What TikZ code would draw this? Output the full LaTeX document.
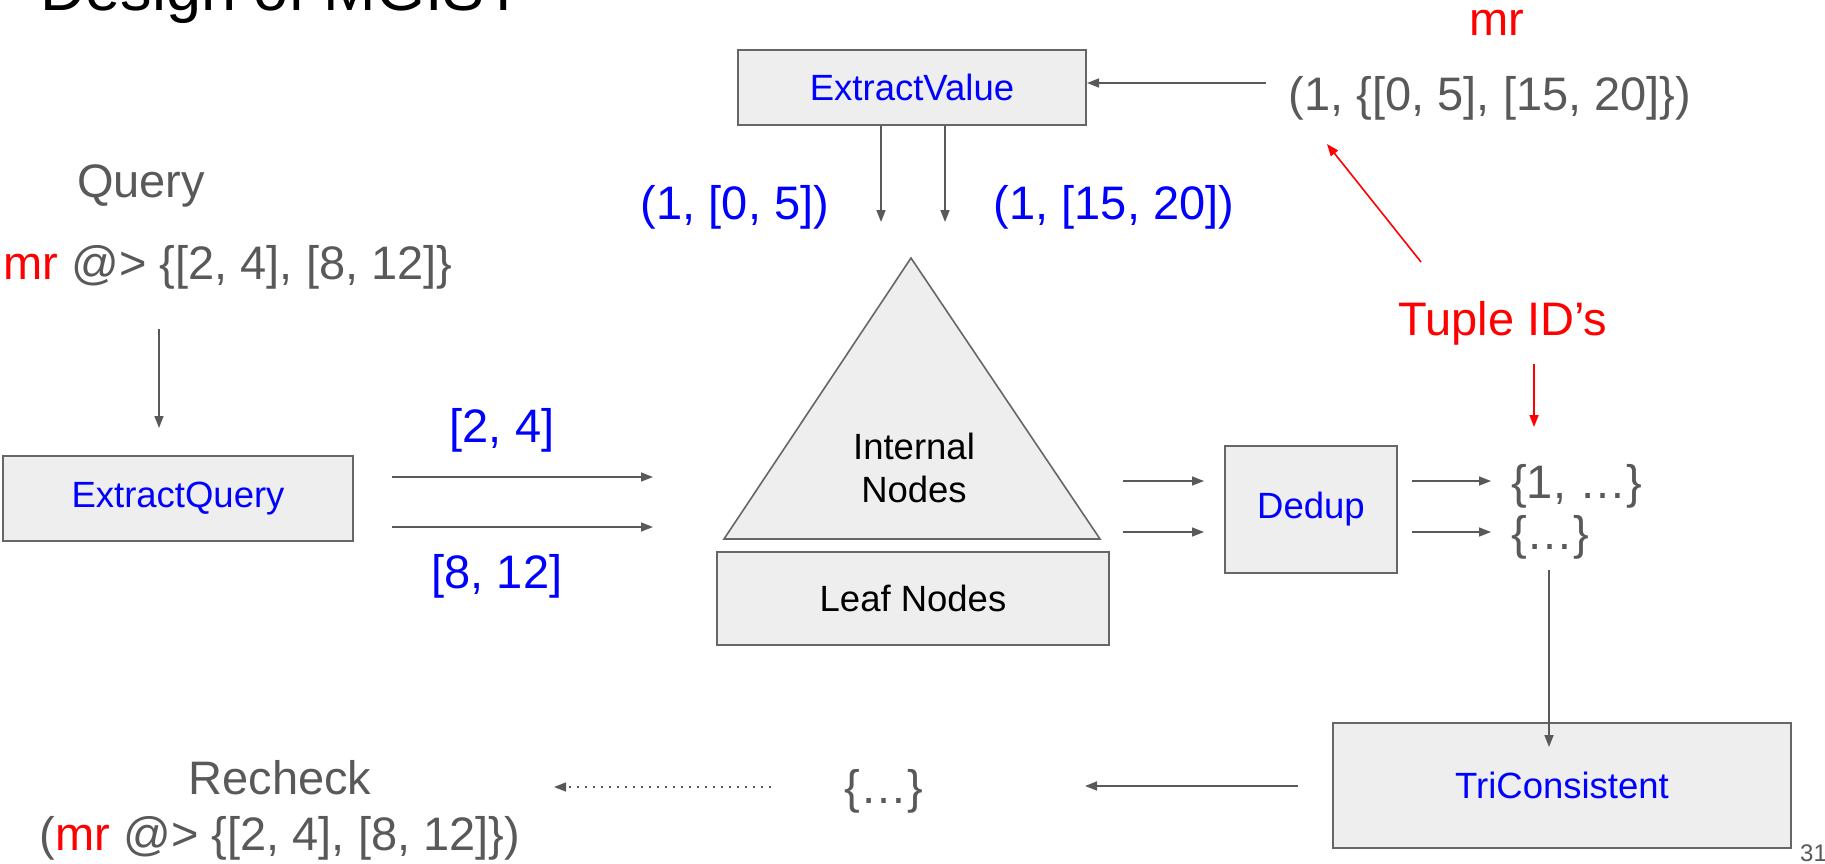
\documentclass[tikz,border=0pt]{standalone}
\usepackage{fontspec}
\setmainfont{Liberation Sans}
\usetikzlibrary{arrows.meta}

\definecolor{txtgray}{HTML}{595959}
\definecolor{boxfill}{HTML}{EEEEEE}
\definecolor{boxline}{HTML}{666666}
\definecolor{opblue}{HTML}{0000FF}
\definecolor{hotred}{HTML}{FF0000}

\tikzset{
  big/.style={font=\fontsize{47}{56}\selectfont, text=txtgray, inner sep=0pt, anchor=base},
  op/.style={draw=boxline, fill=boxfill, line width=2pt, inner sep=0pt,
             font=\fontsize{36.5}{43}\selectfont, text=opblue},
  arr/.style={draw=txtgray, line width=1.6pt, -{Triangle[length=12pt,width=9pt]}},
  redarr/.style={arr, draw=hotred},
}

\begin{document}
\begin{tikzpicture}[x=1pt, y=-1pt]
    \useasboundingbox (0,0) rectangle (1825,864);
    \clip (0,0) rectangle (1825,864);
    % Title (cut by the top edge)
    \node[anchor=base west, inner sep=0pt, font=\fontsize{63}{70}\selectfont] (title) at (40,11) {Design of MGIST};
    % Query
    \node[big] (qlabel) at (141,197) {Query};
    \node[big, anchor=base west] (qline) at (3.5,279) {\textcolor{hotred}{mr} @> \{[2, 4], [8, 12]\}};
    % Operator boxes
    \node[op, minimum width=350pt, minimum height=85pt] (eq) at (178,498.5) {ExtractQuery};
    \node[op, minimum width=348pt, minimum height=75pt] (ev) at (912,87.5) {ExtractValue};
    \node[op, minimum width=172pt, minimum height=127pt] (dedup) at (1311,509.5) {Dedup};
    \node[op, minimum width=458pt, minimum height=125pt] (tri) at (1562,785.5) {TriConsistent};
    % Index: internal nodes over leaf nodes
    \coordinate (apex) at (911,258);
    \coordinate (bl) at (724,539);
    \coordinate (br) at (1100,539);
    \draw[draw=boxline, fill=boxfill, line width=1.6pt] (apex) -- (br) -- (bl) -- cycle;
    \node[align=center, inner sep=0pt, font=\fontsize{36.5}{43}\selectfont] (inner) at (914,468) {Internal\\Nodes};
    \node[op, text=black, minimum width=392pt, minimum height=93pt] (leaf) at (913,598.5) {Leaf Nodes};
    % Query -> ExtractQuery
    \coordinate (q1) at (159,329);
    \coordinate (q2) at (159,428);
    \draw[arr] (q1) -- (q2);
    % ExtractQuery -> tree
    \coordinate (a1) at (392,477);
    \coordinate (a2) at (653,477);
    \coordinate (b1) at (392,527);
    \coordinate (b2) at (653,527);
    \draw[arr] (a1) -- (a2);
    \draw[arr] (b1) -- (b2);
    \node[big, text=opblue] (r1) at (502,442) {[2, 4]};
    \node[big, text=opblue] (r2) at (497,588) {[8, 12]};
    % Stored value -> ExtractValue -> tree
    \node[big, text=hotred] (mr) at (1497,36) {mr};
    \node[big] (tuple) at (1490,111) {(1, \{[0, 5], [15, 20]\})};
    \coordinate (t1) at (1266,83);
    \draw[arr] (t1) -- (ev.east |- t1);
    \coordinate (v1) at (881,222);
    \coordinate (v2) at (945,222);
    \draw[arr] (ev.south -| v1) -- (v1);
    \draw[arr] (ev.south -| v2) -- (v2);
    \node[big, text=opblue] (val1) at (735,219) {(1, [0, 5])};
    \node[big, text=opblue] (val2) at (1114,219) {(1, [15, 20])};
    % Tuple IDs
    \node[big, text=hotred] (tid) at (1503,335) {Tuple ID’s};
    \coordinate (e1) at (1421,262);
    \coordinate (e2) at (1327,144);
    \draw[redarr] (e1) -- (e2);
    \coordinate (d1) at (1534,364);
    \coordinate (d2) at (1534,427);
    \draw[redarr] (d1) -- (d2);
    % tree -> Dedup -> sets
    \coordinate (c1) at (1123,481);
    \coordinate (c2) at (1123,532);
    \draw[arr] (c1) -- ([xshift=-20pt]dedup.west |- c1);
    \draw[arr] (c2) -- ([xshift=-20pt]dedup.west |- c2);
    \coordinate (s1) at (1491,481);
    \coordinate (s2) at (1491,532);
    \draw[arr] ([xshift=14pt]dedup.east |- s1) -- (s1);
    \draw[arr] ([xshift=14pt]dedup.east |- s2) -- (s2);
    \node[big, anchor=base west] (set1) at (1511,498) {\{1, …\}};
    \node[big, anchor=base west] (set2) at (1511,549) {\{…\}};
    % sets -> TriConsistent -> recheck
    \coordinate (g1) at (1549,570);
    \draw[arr] (g1) -- ([yshift=-25pt]tri.north -| g1);
    \node[big] (set3) at (884,803) {\{…\}};
    \coordinate (h1) at (1298,786);
    \coordinate (h2) at (1085,786);
    \draw[arr] (h1) -- (h2);
    \coordinate (k1) at (771,787);
    \coordinate (k2) at (554,787);
    \draw[arr, dash pattern=on 2.5pt off 5.5pt] (k1) -- (k2);
    \node[big] (recheck) at (280,794) {Recheck};
    \node[big] (reline) at (280,850) {(\textcolor{hotred}{mr} @> \{[2, 4], [8, 12]\})};
    % Page number
    \node[anchor=base west, inner sep=0pt, text=txtgray, font=\fontsize{24}{28}\selectfont] (page) at (1800,861) {31};
\end{tikzpicture}
\end{document}
